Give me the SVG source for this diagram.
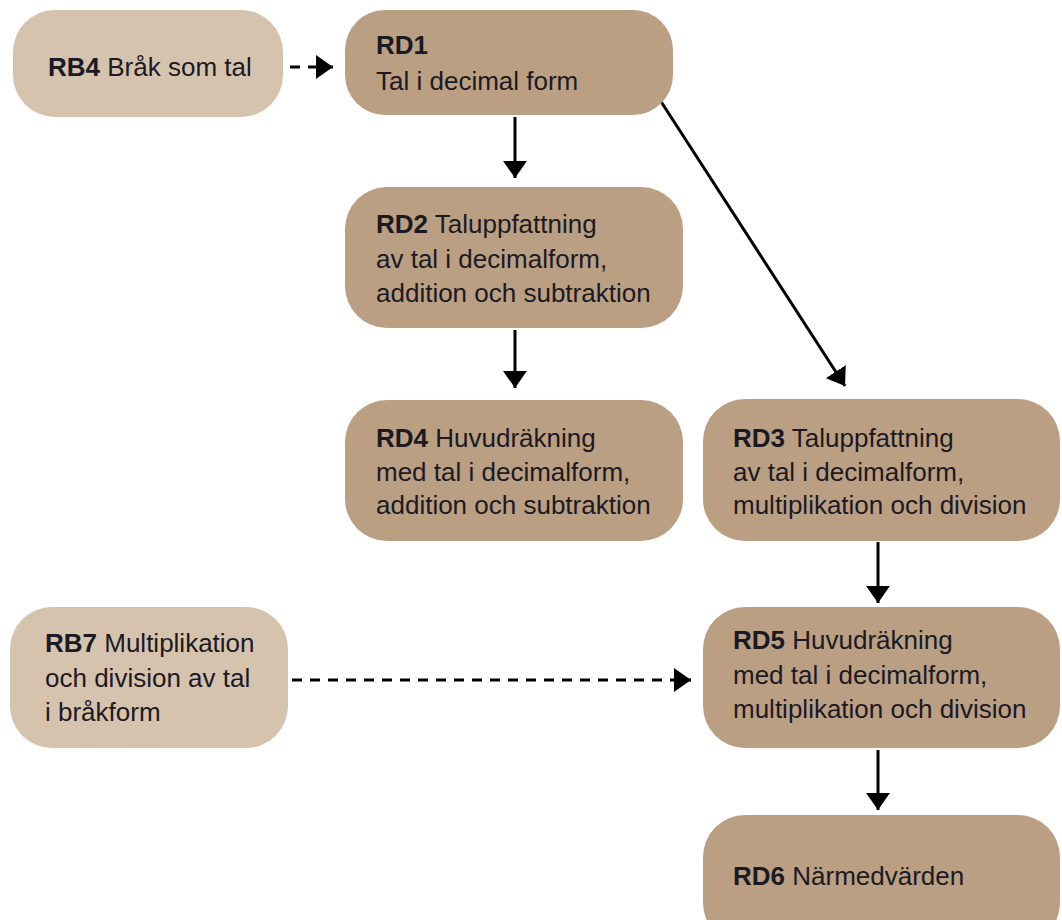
<svg xmlns="http://www.w3.org/2000/svg" width="1062" height="920" viewBox="0 0 1062 920">
<style>
.light{fill:#d6c3ad}
.dark{fill:#bb9f82}
text{font-family:"Liberation Sans Narrow","Liberation Sans",Arial,sans-serif;font-size:26px;fill:#1a1a24}
.b{font-weight:bold}
.c{stroke:#000;stroke-width:3;fill:none}
.d{stroke-dasharray:10 8}
</style>
<defs>
<marker id="ah" viewBox="0 0 10 14" refX="10" refY="7" markerWidth="5.7" markerHeight="8" markerUnits="strokeWidth" orient="auto" preserveAspectRatio="none">
<path d="M0,0 L10,7 L0,14 z" fill="#000"/>
</marker>
</defs>
<rect width="1062" height="920" fill="#fff"/>
<g id="connectors">
<line class="c d" x1="290" y1="67" x2="333" y2="67" marker-end="url(#ah)"/>
<line class="c" x1="515" y1="117" x2="515" y2="178" marker-end="url(#ah)"/>
<line class="c" x1="660" y1="100" x2="845" y2="386" marker-end="url(#ah)"/>
<line class="c" x1="515" y1="330" x2="515" y2="388" marker-end="url(#ah)"/>
<line class="c" x1="878" y1="542" x2="878" y2="603" marker-end="url(#ah)"/>
<line class="c d" x1="292" y1="680" x2="691" y2="680" marker-end="url(#ah)"/>
<line class="c" x1="878" y1="750" x2="878" y2="810" marker-end="url(#ah)"/>
</g>
<g id="RB4">
<rect class="light" x="13" y="10" width="270" height="107" rx="42"/>
<text x="48" y="76"><tspan class="b">RB4</tspan> Bråk som tal</text>
</g>
<g id="RD1">
<rect class="dark" x="345" y="10" width="328" height="105" rx="40"/>
<text x="376" y="54" class="b">RD1</text>
<text x="376" y="90">Tal i decimal form</text>
</g>
<g id="RD2">
<rect class="dark" x="345" y="187" width="338" height="141" rx="42"/>
<text x="376" y="233"><tspan class="b">RD2</tspan> Taluppfattning</text>
<text x="376" y="268">av tal i decimalform,</text>
<text x="376" y="302">addition och subtraktion</text>
</g>
<g id="RD4">
<rect class="dark" x="345" y="400" width="338" height="141" rx="42"/>
<text x="376" y="447"><tspan class="b">RD4</tspan> Huvudräkning</text>
<text x="376" y="481">med tal i decimalform,</text>
<text x="376" y="514">addition och subtraktion</text>
</g>
<g id="RD3">
<rect class="dark" x="703" y="399" width="357" height="142" rx="42"/>
<text x="733" y="447"><tspan class="b">RD3</tspan> Taluppfattning</text>
<text x="733" y="481">av tal i decimalform,</text>
<text x="733" y="514">multiplikation och division</text>
</g>
<g id="RB7">
<rect class="light" x="10" y="607" width="278" height="141" rx="42"/>
<text x="45" y="652"><tspan class="b">RB7</tspan> Multiplikation</text>
<text x="45" y="687">och division av tal</text>
<text x="45" y="721">i bråkform</text>
</g>
<g id="RD5">
<rect class="dark" x="703" y="607" width="357" height="141" rx="42"/>
<text x="733" y="649"><tspan class="b">RD5</tspan> Huvudräkning</text>
<text x="733" y="684">med tal i decimalform,</text>
<text x="733" y="718">multiplikation och division</text>
</g>
<g id="RD6">
<rect class="dark" x="703" y="815" width="357" height="130" rx="42"/>
<text x="733" y="885"><tspan class="b">RD6</tspan> Närmedvärden</text>
</g>
</svg>
